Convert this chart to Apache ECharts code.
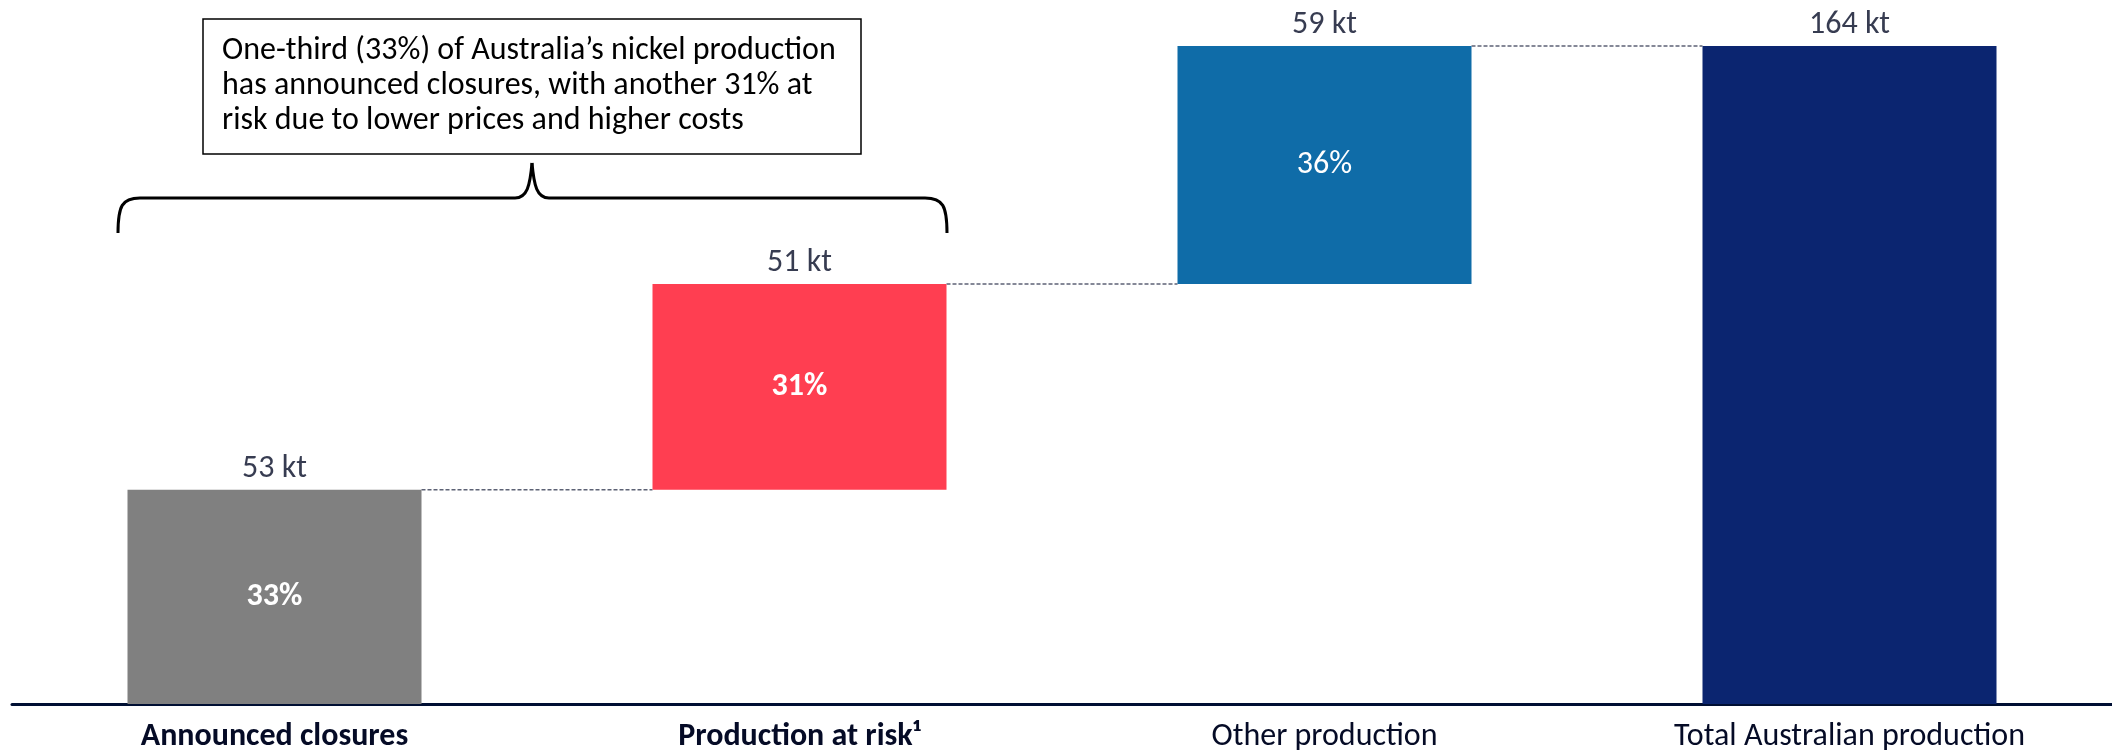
<!DOCTYPE html>
<html>
<head>
<meta charset="utf-8">
<title>Australian nickel production</title>
<script src="https://cdn.jsdelivr.net/npm/echarts@6/dist/echarts.min.js"></script>
<style>
  html, body { margin: 0; padding: 0; background: #fff; }
  #chart { width: 2112px; height: 753px; }
</style>
</head>
<body>
<div id="chart"></div>
<script>
const categories = ['Announced closures', 'Production at risk¹', 'Other production', 'Total Australian production']
const boldCategories = [true, true, false, false]
// bar heights in kt (labels are rounded)
const values = [53.4, 51.3, 59.3, 164]
const bases = [0, 53.4, 104.7, 0]
const shares = ['33%', '31%', '36%', '']
const shareBold = [true, true, false, false]
const colors = ['#808080', '#ff3e51', '#0f6ca8', '#0b2570']

const FONT = 'Carlito, Calibri, "Liberation Sans Narrow", "DejaVu Sans Condensed", "Noto Sans", sans-serif'
const TEXT_DARK = '#050b26'
const FS = 32

const chart = echarts.init(document.getElementById('chart'))

const braceStyle = { stroke: '#000', lineWidth: 3, fill: 'none' }

const option = {
  animation: false,
  textStyle: { fontFamily: FONT },
  grid: { left: 12, right: 0, top: 46, bottom: 48 },
  xAxis: {
    type: 'category',
    data: categories,
    axisTick: { show: false },
    axisLine: { lineStyle: { color: '#000f33', width: 3 } },
    axisLabel: {
      margin: 17,
      fontSize: FS,
      color: TEXT_DARK,
      fontFamily: FONT,
      formatter: (val, idx) => boldCategories[idx] ? '{b|' + val + '}' : val,
      rich: { b: { fontWeight: 'bold', fontSize: FS, color: TEXT_DARK, fontFamily: FONT } }
    }
  },
  yAxis: { type: 'value', min: 0, max: 164, show: false },
  series: [
    {
      type: 'bar',
      stack: 'w',
      barWidth: '56%',
      silent: true,
      itemStyle: { color: 'transparent' },
      data: bases
    },
    {
      type: 'bar',
      stack: 'w',
      barWidth: '56%',
      data: values.map((v, i) => ({
        value: v,
        itemStyle: { color: colors[i] },
        label: {
          show: shares[i] !== '',
          position: 'inside',
          formatter: shares[i],
          color: '#fff',
          fontSize: FS,
          fontFamily: FONT,
          fontWeight: shareBold[i] ? 'bold' : 'normal'
        }
      }))
    },
    {
      // value labels above each bar
      type: 'scatter',
      symbolSize: 0,
      silent: true,
      data: values.map((v, i) => [i, v + bases[i]]),
      label: {
        show: true,
        position: 'top',
        distance: 5,
        fontSize: FS,
        fontFamily: FONT,
        color: TEXT_DARK,
        formatter: p => Math.round(values[p.dataIndex]) + ' kt'
      }
    },
    {
      // dashed connectors between bar tops
      type: 'custom',
      silent: true,
      data: values.slice(0, 3).map((v, i) => [i, v + bases[i]]),
      renderItem: (params, api) => {
        const i = api.value(0)
        const level = api.value(1)
        const half = api.size([1, 0])[0] * 0.56 / 2
        const p1 = api.coord([i, level])
        const p2 = api.coord([i + 1, level])
        return {
          type: 'line',
          shape: { x1: p1[0] + half, y1: p1[1], x2: p2[0] - half, y2: p2[1] },
          style: { stroke: '#5d6275', lineWidth: 1.5, lineDash: [4, 2] }
        }
      }
    }
  ],
  graphic: [
    {
      type: 'rect',
      shape: { x: 203, y: 19, width: 658, height: 135 },
      style: { fill: '#fff', stroke: '#000', lineWidth: 1.5 }
    },
    {
      type: 'text',
      x: 222,
      y: 33,
      style: {
        text: 'One-third (33%) of Australia’s nickel production\nhas announced closures, with another 31% at\nrisk due to lower prices and higher costs',
        fontSize: FS,
        lineHeight: 35,
        fontFamily: FONT,
        fill: '#000',
        verticalAlign: 'top'
      }
    },
    // curly brace under the note
    { type: 'bezierCurve', shape: { x1: 118, y1: 233, cpx1: 118, cpy1: 206, cpx2: 122, cpy2: 198, x2: 140, y2: 198 }, style: braceStyle },
    { type: 'line', shape: { x1: 140, y1: 198, x2: 515, y2: 198 }, style: braceStyle },
    { type: 'bezierCurve', shape: { x1: 515, y1: 198, cpx1: 527, cpy1: 198, cpx2: 530, cpy2: 186, x2: 532, y2: 163 }, style: braceStyle },
    { type: 'bezierCurve', shape: { x1: 532, y1: 163, cpx1: 534, cpy1: 186, cpx2: 537, cpy2: 198, x2: 549, y2: 198 }, style: braceStyle },
    { type: 'line', shape: { x1: 549, y1: 198, x2: 925, y2: 198 }, style: braceStyle },
    { type: 'bezierCurve', shape: { x1: 925, y1: 198, cpx1: 943, cpy1: 198, cpx2: 947, cpy2: 206, x2: 947, y2: 233 }, style: braceStyle }
  ]
}

chart.setOption(option)
</script>
</body>
</html>
